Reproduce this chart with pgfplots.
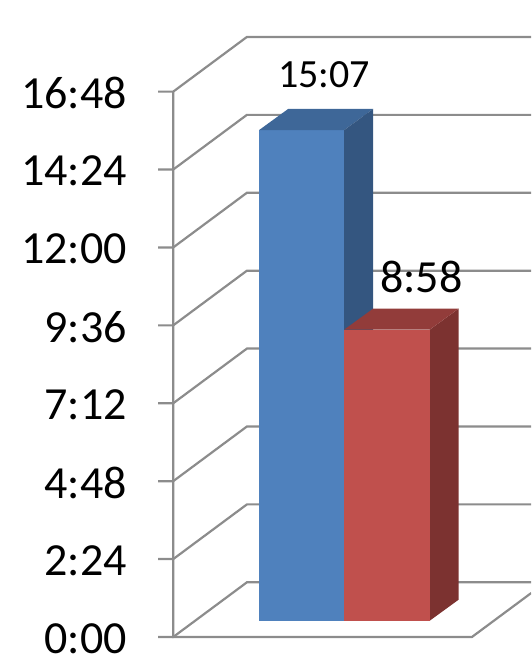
\documentclass[border=0pt]{standalone}
\usepackage{fontspec}
\setmainfont{Carlito}
\usepackage{pgfplots}
\pgfplotsset{compat=1.18}
\definecolor{gridc}{RGB}{140,140,140}
\definecolor{bfront}{RGB}{79,129,189}
\definecolor{btop}{RGB}{62,103,152}
\definecolor{bside}{RGB}{52,86,128}
\definecolor{rfront}{RGB}{192,80,77}
\definecolor{rtop}{RGB}{146,60,58}
\definecolor{rside}{RGB}{124,50,48}
\begin{document}
\begin{tikzpicture}
\begin{axis}[
  x=0.5pt, y=0.2705pt,
  xmin=0, xmax=531, ymin=-72.6, ymax=1147.3,
  axis line style={draw=none},
  major tick length=0pt,
  xtick=\empty,
  ytick={-30.1,113.9,257.9,401.9,545.9,689.9,833.9,977.9},
  yticklabels={0:00,2:24,4:48,7:12,9:36,12:00,14:24,16:48},
  yticklabel style={font=\fontsize{23}{27}\selectfont, anchor=east, inner sep=0pt, xshift=63.5pt, yshift=-0.8pt},
]
% grid lines (front tick, side wall diagonal, back wall)
\addplot[gridc, line width=1.1pt, no marks] coordinates {(158,-30.1) (173,-30.1) (246.7,71.0) (531,71.0)};
\addplot[gridc, line width=1.1pt, no marks] coordinates {(158,113.9) (173,113.9) (246.7,215.0) (531,215.0)};
\addplot[gridc, line width=1.1pt, no marks] coordinates {(158,257.9) (173,257.9) (246.7,359.0) (531,359.0)};
\addplot[gridc, line width=1.1pt, no marks] coordinates {(158,401.9) (173,401.9) (246.7,503.0) (531,503.0)};
\addplot[gridc, line width=1.1pt, no marks] coordinates {(158,545.9) (173,545.9) (246.7,647.0) (531,647.0)};
\addplot[gridc, line width=1.1pt, no marks] coordinates {(158,689.9) (173,689.9) (246.7,791.0) (531,791.0)};
\addplot[gridc, line width=1.1pt, no marks] coordinates {(158,833.9) (173,833.9) (246.7,935.0) (531,935.0)};
\addplot[gridc, line width=1.1pt, no marks] coordinates {(158,977.9) (173,977.9) (246.7,1079.0) (531,1079.0)};
% vertical axis and floor front edge
\addplot[gridc, line width=1.1pt, no marks] coordinates {(173,977.9) (173,-30.1) (471.7,-30.1) (531,51.2)};
% blue bar
\addplot[ybar, bar width=85, bar shift=0pt, fill=bfront, draw=none] coordinates {(301.5,907)};
\addplot[fill=btop, draw=none] coordinates {(259,907) (344,907) (373,946) (288,946)} --cycle;
\addplot[fill=bside, draw=none] coordinates {(344,0) (344,907) (373,946) (373,39)} --cycle;
% red bar
\addplot[fill=rside, draw=none] coordinates {(429.5,0) (429.5,538) (458.5,577) (458.5,39)} --cycle;
\addplot[fill=rtop, draw=none] coordinates {(344,538) (429.5,538) (458.5,577) (373,577)} --cycle;
\addplot[ybar, bar width=85.5, bar shift=0pt, fill=rfront, draw=none] coordinates {(386.75,538)};
% data labels
\node[anchor=base, font=\fontsize{20}{24}\selectfont] at (axis cs:324,984.7) {15:07};
\node[anchor=base, font=\fontsize{23}{27}\selectfont] at (axis cs:421,607.5) {8:58};
\end{axis}
\end{tikzpicture}
\end{document}
